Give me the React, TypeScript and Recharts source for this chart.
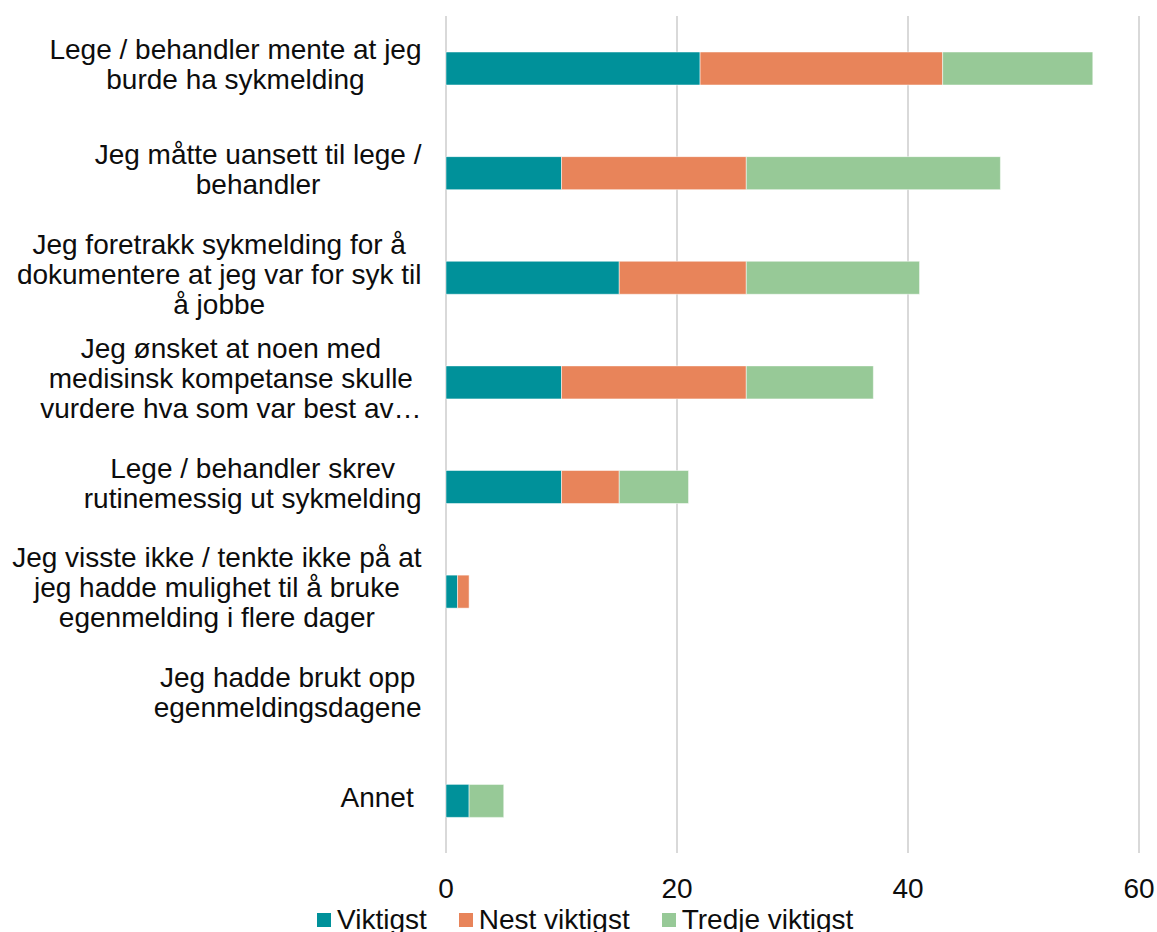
import React from "react";
import { BarChart, Bar, XAxis, YAxis, CartesianGrid, Legend } from "recharts";

const categories = [
  "Lege / behandler mente at jeg\nburde ha sykmelding",
  "Jeg måtte uansett til lege /\nbehandler",
  "Jeg foretrakk sykmelding for å\ndokumentere at jeg var for syk til\nå jobbe",
  "Jeg ønsket at noen med\nmedisinsk kompetanse skulle\nvurdere hva som var best av…",
  "Lege / behandler skrev\nrutinemessig ut sykmelding",
  "Jeg visste ikke / tenkte ikke på at\njeg hadde mulighet til å bruke\negenmelding i flere dager",
  "Jeg hadde brukt opp\negenmeldingsdagene",
  "Annet ",
];
const viktigst = [22, 10, 15, 10, 10, 1, 0, 2];
const nestViktigst = [21, 16, 11, 16, 5, 1, 0, 0];
const tredjeViktigst = [13, 22, 15, 11, 6, 0, 0, 3];
const seriesNames = ["Viktigst", "Nest viktigst", "Tredje viktigst"];
const seriesKeys = ["v1", "v2", "v3"];
const seriesColors = ["#00919A", "#E8845A", "#97C997"];
const xTicks = [0, 20, 40, 60];

const data = categories.map((name, i) => ({
  name,
  v1: viktigst[i],
  v2: nestViktigst[i],
  v3: tredjeViktigst[i],
}));

const FONT_FAMILY = "'Liberation Sans', Arial, sans-serif";
const FONT_SIZE = 28;
const TEXT_COLOR = "#0d0d0d";
const LABEL_RIGHT = 421.5;
const LINE_H = 30;

let ctx: CanvasRenderingContext2D | null = null;
function measure(s: string): number {
  if (!ctx) ctx = document.createElement("canvas").getContext("2d");
  if (!ctx) return s.length * FONT_SIZE * 0.5;
  ctx.font = `${FONT_SIZE}px 'Liberation Sans', Arial, sans-serif`;
  return ctx.measureText(s).width;
}

const YTick = (props: any) => {
  const { y, payload } = props;
  const lines = String(payload.value).split("\n");
  const maxW = Math.max(...lines.map(measure));
  const cx = LABEL_RIGHT - maxW / 2;
  return (
    <g>
      {lines.map((l, i) => (
        <text
          key={i}
          x={cx}
          y={y + (i - (lines.length - 1) / 2) * LINE_H + 6}
          textAnchor="middle"
          fontSize={FONT_SIZE}
          fontFamily={FONT_FAMILY}
          fill={TEXT_COLOR}
          style={{ whiteSpace: "pre" }}
        >
          {l}
        </text>
      ))}
    </g>
  );
};

const LegendContent = () => (
  <div
    style={{
      display: "flex",
      alignItems: "center",
      height: 32,
      fontFamily: FONT_FAMILY,
      fontSize: FONT_SIZE,
      lineHeight: "32px",
      color: TEXT_COLOR,
      whiteSpace: "nowrap",
    }}
  >
    {seriesNames.map((n, i) => (
      <div key={n} style={{ display: "flex", alignItems: "center", marginRight: 32 }}>
        <span style={{ display: "inline-block", width: 14, height: 14, background: seriesColors[i], marginRight: 6 }} />
        <span>{n}</span>
      </div>
    ))}
  </div>
);

export default function App() {
  return (
    <div style={{ position: "absolute", left: 0, top: 0, background: "#fff" }}>
      <BarChart
        width={1157}
        height={932}
        data={data}
        layout="vertical"
        margin={{ top: 16, right: 18, bottom: 0, left: 0 }}
      >
        <CartesianGrid horizontal={false} vertical={true} stroke="#D9D9D9" strokeWidth={2} />
        <XAxis
          type="number"
          domain={[0, 60]}
          ticks={xTicks}
          axisLine={false}
          tickLine={false}
          tickSize={0}
          tickMargin={25}
          height={47}
          tick={{ fontSize: FONT_SIZE, fontFamily: FONT_FAMILY, fill: TEXT_COLOR }}
          interval={0}
        />
        <YAxis
          type="category"
          dataKey="name"
          width={446}
          axisLine={false}
          tickLine={false}
          tick={<YTick />}
          interval={0}
        />
        <Legend
          verticalAlign="bottom"
          wrapperStyle={{ left: 317, top: 904, width: 840 }}
          content={() => <LegendContent />}
        />
        {seriesKeys.map((k, i) => (
          <Bar
            key={k}
            dataKey={k}
            name={seriesNames[i]}
            stackId="a"
            fill={seriesColors[i]}
            stroke="#ffffff"
            strokeWidth={0.5}
            barSize={33}
            isAnimationActive={false}
          />
        ))}
      </BarChart>
    </div>
  );
}
